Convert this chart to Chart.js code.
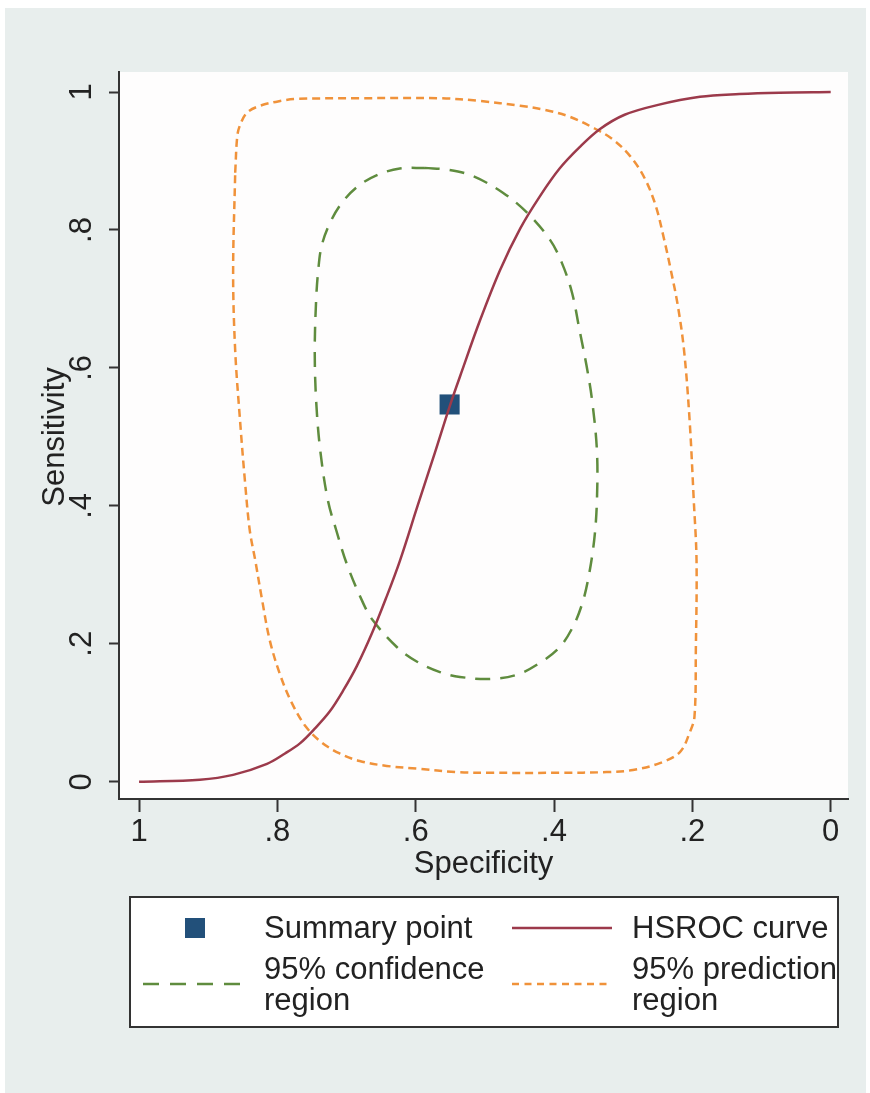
<!DOCTYPE html>
<html>
<head>
<meta charset="utf-8">
<script src="https://cdn.jsdelivr.net/npm/chart.js@4.4.1/dist/chart.umd.min.js"></script>
<style>
  html, body { margin: 0; padding: 0; background: #fff; }
  #bg   { position: absolute; left: 5px; top: 8px; width: 861px; height: 1085px; background: #e8eeed; }
  #wrap { position: absolute; left: 0; top: 0; width: 870px; height: 1093px; }
</style>
</head>
<body>
<div id="bg"></div>
<div id="wrap"><canvas id="roc"></canvas></div>
<script>
/* ---------------- DATA ---------------- */
const tickValues = [0, 0.2, 0.4, 0.6, 0.8, 1];
const tickLabels = ["0", ".2", ".4", ".6", ".8", "1"];

// summary point
const summarySpec = [0.551];
const summarySens = [0.547];

// HSROC curve
const hsrocSpec = [1.0, 0.912, 0.864, 0.815, 0.789, 0.767, 0.746, 0.725, 0.705, 0.685, 0.663, 0.643,
                   0.623, 0.597, 0.572, 0.551, 0.533, 0.507, 0.478, 0.449, 0.421, 0.392, 0.363, 0.334,
                   0.298, 0.251, 0.189, 0.132, 0.074, 0.0];
const hsrocSens = [0.0, 0.003, 0.010, 0.026, 0.041, 0.056, 0.077, 0.101, 0.132, 0.168, 0.216, 0.266,
                   0.320, 0.401, 0.478, 0.544, 0.596, 0.669, 0.742, 0.802, 0.848, 0.889, 0.920, 0.946,
                   0.967, 0.981, 0.993, 0.997, 0.999, 1.0];

// 95% confidence region
const confSpec = [0.587, 0.551, 0.517, 0.474, 0.439, 0.406, 0.389, 0.374, 0.363, 0.353, 0.345, 0.338,
                  0.338, 0.342, 0.351, 0.360, 0.373, 0.392, 0.421, 0.454, 0.493, 0.536, 0.565, 0.598,
                  0.627, 0.662, 0.676, 0.699, 0.715, 0.727, 0.738, 0.744, 0.746, 0.744, 0.741, 0.736,
                  0.724, 0.707, 0.684, 0.655, 0.623, 0.587];
const confSens = [0.890, 0.887, 0.878, 0.854, 0.825, 0.786, 0.753, 0.709, 0.654, 0.603, 0.553, 0.480,
                  0.408, 0.350, 0.292, 0.256, 0.224, 0.195, 0.172, 0.155, 0.149, 0.152, 0.159, 0.174,
                  0.195, 0.234, 0.259, 0.314, 0.365, 0.408, 0.480, 0.553, 0.625, 0.698, 0.741, 0.777,
                  0.810, 0.839, 0.863, 0.880, 0.889, 0.890];

// 95% prediction region
const predSpec = [0.861, 0.858, 0.854, 0.844, 0.825, 0.796, 0.772, 0.681, 0.565, 0.507, 0.449, 0.413,
                  0.377, 0.345, 0.316, 0.290, 0.269, 0.253, 0.241, 0.231, 0.221, 0.212, 0.204, 0.198,
                  0.194, 0.195, 0.197, 0.204, 0.218, 0.247, 0.286, 0.324, 0.392, 0.488, 0.540, 0.598,
                  0.642, 0.681, 0.710, 0.736, 0.759, 0.779, 0.796, 0.811, 0.822, 0.832, 0.840, 0.847,
                  0.854, 0.861, 0.864, 0.861];
const predSens = [0.883, 0.936, 0.952, 0.970, 0.980, 0.987, 0.990, 0.991, 0.991, 0.987, 0.980, 0.974,
                  0.964, 0.949, 0.932, 0.907, 0.875, 0.835, 0.787, 0.741, 0.690, 0.625, 0.524, 0.408,
                  0.321, 0.191, 0.094, 0.071, 0.043, 0.027, 0.017, 0.014, 0.013, 0.013, 0.014, 0.019,
                  0.023, 0.030, 0.041, 0.057, 0.080, 0.114, 0.155, 0.205, 0.263, 0.321, 0.365, 0.437,
                  0.524, 0.625, 0.738, 0.883];

/* ---------------- STYLE ---------------- */
const FONT   = '"Liberation Sans", Arial, sans-serif';
const INK    = "#222";
const RED    = "#9c3a4b";
const GREEN  = "#5f8c3e";
const ORANGE = "#f0923a";
const NAVY   = "#22507a";

const pts = (xs, ys) => xs.map((x, i) => ({ x, y: ys[i] }));

/* -------------- plugins ---------------- */
const plotBg = {
  id: "plotBg",
  beforeDraw(chart) {
    const { ctx, chartArea: a } = chart;
    ctx.save();
    ctx.fillStyle = "#fefdfd";
    ctx.fillRect(a.left, a.top, a.right - a.left, a.bottom - a.top);
    ctx.restore();
  }
};

// rotated y tick labels + y title (Chart.js does not rotate vertical-axis labels)
const yLabels = {
  id: "yLabels",
  afterDraw(chart) {
    const { ctx, scales: { y } } = chart;
    ctx.save();
    ctx.fillStyle = INK;
    ctx.font = `31px ${FONT}`;
    ctx.textAlign = "center";
    ctx.textBaseline = "alphabetic";
    tickValues.forEach((v, i) => {
      ctx.save();
      ctx.translate(91, y.getPixelForValue(v));
      ctx.rotate(-Math.PI / 2);
      ctx.fillText(tickLabels[i], 0, 0);
      ctx.restore();
    });
    ctx.translate(64, 437);
    ctx.rotate(-Math.PI / 2);
    ctx.fillText("Sensitivity", 0, 0);
    ctx.restore();
  }
};

const legendBox = {
  id: "legendBox",
  afterDraw(chart) {
    const { ctx } = chart;
    ctx.save();
    ctx.fillStyle = "#fff";
    ctx.fillRect(130, 897, 708, 130);
    ctx.strokeStyle = "#333";
    ctx.lineWidth = 2;
    ctx.strokeRect(130, 897, 708, 130);

    // keys
    ctx.fillStyle = NAVY;
    ctx.fillRect(185, 918, 20, 20);

    ctx.lineWidth = 2.5;
    ctx.strokeStyle = RED;
    ctx.beginPath(); ctx.moveTo(512, 928); ctx.lineTo(612, 928); ctx.stroke();

    ctx.strokeStyle = GREEN;
    ctx.setLineDash([16, 11]);
    ctx.beginPath(); ctx.moveTo(143, 984); ctx.lineTo(242, 984); ctx.stroke();

    ctx.strokeStyle = ORANGE;
    ctx.setLineDash([7, 5.5]);
    ctx.beginPath(); ctx.moveTo(512, 984); ctx.lineTo(612, 984); ctx.stroke();
    ctx.setLineDash([]);

    // texts
    ctx.fillStyle = INK;
    ctx.font = `31px ${FONT}`;
    ctx.textAlign = "left";
    ctx.textBaseline = "middle";
    ctx.fillText("Summary point", 264, 929);
    ctx.fillText("HSROC curve", 632, 929);
    ctx.fillText("95% confidence", 264, 970);
    ctx.fillText("region", 264, 1001);
    ctx.fillText("95% prediction", 632, 970);
    ctx.fillText("region", 632, 1001);
    ctx.restore();
  }
};

/* ---------------- CHART ---------------- */
new Chart(document.getElementById("roc"), {
  type: "scatter",
  data: {
    datasets: [
      {
        label: "HSROC curve",
        data: pts(hsrocSpec, hsrocSens),
        showLine: true, tension: 0.35,
        borderColor: RED, borderWidth: 2.5,
        pointRadius: 0, order: 0
      },
      {
        label: "Summary point",
        data: pts(summarySpec, summarySens),
        pointStyle: "rect", pointRadius: 14.2,
        backgroundColor: NAVY, borderColor: NAVY, borderWidth: 0,
        order: 1
      },
      {
        label: "95% confidence region",
        data: pts(confSpec, confSens),
        showLine: true, tension: 0.35,
        borderColor: GREEN, borderWidth: 2.5, borderDash: [15, 10],
        pointRadius: 0, order: 2
      },
      {
        label: "95% prediction region",
        data: pts(predSpec, predSens),
        showLine: true, tension: 0.35,
        borderColor: ORANGE, borderWidth: 2.5, borderDash: [8, 5],
        pointRadius: 0, order: 3
      }
    ]
  },
  options: {
    responsive: true,
    maintainAspectRatio: false,
    animation: false,
    layout: { padding: { top: 72, right: 22, bottom: 210, left: 0 } },
    plugins: { legend: { display: false }, tooltip: { enabled: false } },
    scales: {
      x: {
        type: "linear",
        reverse: true,
        min: -0.025, max: 1.029,
        afterBuildTicks: s => { s.ticks = tickValues.map(v => ({ value: v })); },
        afterFit: s => { s.height = 84; },
        ticks: {
          color: INK, font: { family: FONT, size: 31 }, padding: 2,
          maxRotation: 0, autoSkip: false,
          callback: v => tickLabels[tickValues.indexOf(v)]
        },
        grid: { drawOnChartArea: false, drawTicks: true, tickLength: 13, tickColor: "#333", tickWidth: 2 },
        border: { display: true, color: "#333", width: 2 },
        title: {
          display: true, text: "Specificity", color: INK,
          font: { family: FONT, size: 31 }, padding: { top: 0, bottom: 0 }
        }
      },
      y: {
        type: "linear",
        min: -0.025, max: 1.029,
        afterBuildTicks: s => { s.ticks = tickValues.map(v => ({ value: v })); },
        afterFit: s => { s.width = 119; },
        ticks: { display: false },
        grid: { drawOnChartArea: false, drawTicks: true, tickLength: 10, tickColor: "#333", tickWidth: 2 },
        border: { display: true, color: "#333", width: 2 }
      }
    }
  },
  plugins: [plotBg, yLabels, legendBox]
});
</script>
</body>
</html>
